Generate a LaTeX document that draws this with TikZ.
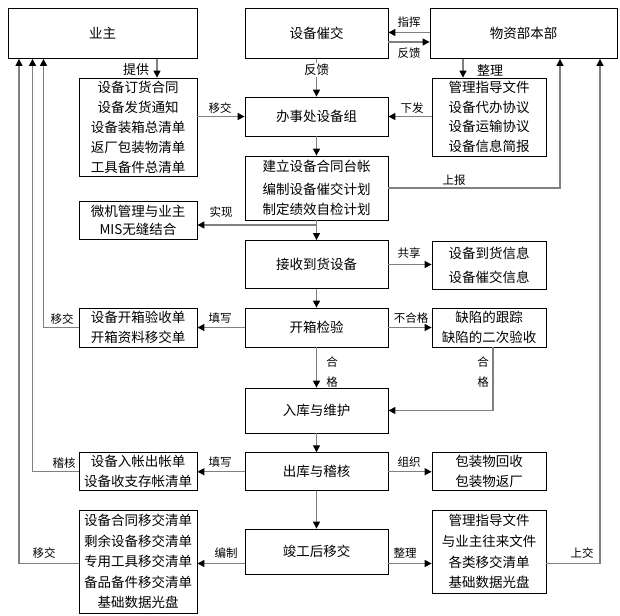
\documentclass[tikz,border=0pt]{standalone}
\usepackage{fontspec}
\newfontfamily\cjk{Noto Sans CJK SC}
\usetikzlibrary{arrows.meta}

\tikzset{
  box/.style={draw, line width=0.8pt, inner sep=0pt, align=center,
    font=\cjk\fontsize{13.5}{20}\selectfont},
  lbl/.style={inner sep=1pt, font=\cjk\fontsize{11.5}{20}\selectfont},
  conn/.style={draw=black!50, line width=1.2pt,
    -{Triangle[length=7pt,width=7pt,color=black]}},
  link/.style={draw=black!50, line width=1.2pt},
}

\begin{document}
\begin{tikzpicture}[x=1pt, y=-1pt]
\useasboundingbox (0,0) rectangle (620,615);

% top row
\node[box, minimum width=189pt, minimum height=50pt] (yezhu) at (102.5,33.5) {业主};
\node[box, minimum width=143pt, minimum height=50pt] (cuijiao) at (316.5,33.5) {设备催交};
\node[box, minimum width=187pt, minimum height=50pt] (wuzi) at (523.5,33.5) {物资部本部};

% left column
\node[box, minimum width=118pt, minimum height=98pt] (tigong) at (138,127) {设备订货合同\\设备发货通知\\设备装箱总清单\\返厂包装物清单\\工具备件总清单};
\node[box, minimum width=118pt, minimum height=38pt, font=\cjk\fontsize{13.5}{18}\selectfont] (weiji) at (138,220) {微机管理与业主\\MIS无缝结合};
\node[box, minimum width=118pt, minimum height=39pt] (yanshou) at (138,327.5) {设备开箱验收单\\开箱资料移交单};
\node[box, minimum width=118pt, minimum height=38pt] (ruzhang) at (138,471.7) {设备入帐出帐单\\设备收支存帐清单};
\node[box, minimum width=118pt, minimum height=103pt, font=\cjk\fontsize{13.5}{20.4}\selectfont] (yijiao) at (138,561.5) {设备合同移交清单\\剩余设备移交清单\\专用工具移交清单\\备品备件移交清单\\基础数据光盘};

% middle column
\node[box, minimum width=143pt, minimum height=39pt] (bsc) at (316.5,116.5) {办事处设备组};
\node[box, minimum width=143pt, minimum height=64pt] (jianli) at (316.5,188) {建立设备合同台帐\\[3pt]编制设备催交计划\\制定绩效自检计划};
\node[box, minimum width=143pt, minimum height=48pt] (jieshou) at (316.5,264.5) {接收到货设备};
\node[box, minimum width=143pt, minimum height=39pt] (kaixiang) at (316.5,327.5) {开箱检验};
\node[box, minimum width=143pt, minimum height=45pt] (ruku) at (316.5,410.5) {入库与维护};
\node[box, minimum width=143pt, minimum height=38pt] (chuku) at (316.5,471.7) {出库与稽核};
\node[box, minimum width=143pt, minimum height=45pt] (jungong) at (316.5,551.5) {竣工后移交};

% right column
\node[box, minimum width=114pt, minimum height=78pt, font=\cjk\fontsize{13.5}{19.5}\selectfont] (guanli) at (489,117) {管理指导文件\\设备代办协议\\设备运输协议\\设备信息简报};
\node[box, minimum width=114pt, minimum height=48pt] (daohuo) at (489,265) {设备到货信息\\[3.7pt]设备催交信息};
\node[box, minimum width=114pt, minimum height=39pt] (quexian) at (489,327.5) {缺陷的跟踪\\缺陷的二次验收};
\node[box, minimum width=114pt, minimum height=38pt] (baozhuang) at (489,471.7) {包装物回收\\包装物返厂};
\node[box, minimum width=114pt, minimum height=83pt, font=\cjk\fontsize{13.5}{20.8}\selectfont] (guidang) at (489,551.5) {管理指导文件\\与业主往来文件\\各类移交清单\\基础数据光盘};

% connectors at the top
\draw[conn] ([yshift=1pt]wuzi.west) -- ([yshift=1pt]wuzi.west -| cuijiao.east);
\draw[conn] ([yshift=-8.5pt]cuijiao.east) -- ([yshift=-8.5pt]cuijiao.east -| wuzi.west);
\draw[conn] ([xshift=19pt]tigong.north |- yezhu.south) -- ([xshift=19pt]tigong.north);
\draw[conn] (cuijiao.south) -- node[lbl, pos=0.3, fill=white, font=\cjk\fontsize{12.5}{20}\selectfont] {反馈} (bsc.north);
\draw[conn] ([xshift=-26pt]guanli.north |- wuzi.south) -- ([xshift=-26pt]guanli.north);
\draw[conn] (bsc.west -| tigong.east) -- (bsc.west);
\draw[conn] (bsc.east -| guanli.west) -- (bsc.east);
\draw[conn] (bsc.south) -- (jianli.north);
\draw[conn] (jianli.east) -| ([xshift=36.5pt]wuzi.south);

% connectors down the middle
\draw[conn] (jianli.south) -- (jieshou.north);
\draw[conn] ([yshift=-5pt]weiji.east -| jianli.south) -- ([yshift=-5pt]weiji.east);
\draw[conn] (jieshou.east) -- (jieshou.east -| daohuo.west);
\draw[conn] (jieshou.south) -- (kaixiang.north);
\draw[conn] (kaixiang.west) -- (yanshou.east);
\draw[conn] (kaixiang.east) -- (quexian.west);
\draw[conn] (yanshou.west) -| ([xshift=-59pt]yezhu.south);
\draw[conn] (kaixiang.south) -- (ruku.north);
\draw[conn] ([xshift=4pt]quexian.south) |- (ruku.east);
\draw[conn] (ruku.south) -- (chuku.north);
\draw[conn] (chuku.west) -- (ruzhang.east);
\draw[conn] (chuku.east) -- (baozhuang.west);
\draw[conn] (ruzhang.west) -| ([xshift=-70pt]yezhu.south);
\draw[conn] (chuku.south) -- (jungong.north);
\draw[conn] ([yshift=-12pt]jungong.west) -- ([yshift=-12pt]jungong.west -| yijiao.east);
\draw[conn] ([yshift=-12pt]jungong.east) -- ([yshift=-12pt]jungong.east -| guidang.west);
\draw[conn] ([yshift=-2pt]yijiao.west) -| ([xshift=-83.5pt]yezhu.south);
\draw[conn] ([yshift=-12pt]guidang.east) -| ([xshift=76.5pt]wuzi.south);

% connector labels
\foreach \x/\y/\t in {409/21.7/指挥, 409/53.3/反馈, 220/108/移交, 412/108/下发,
    454/180/上报, 221/212/实现, 409/253/共享, 220/318/填写, 411/318/不合格,
    62/319/移交, 220/462/填写, 409/462/组织, 64/463/稽核, 44/553/移交,
    226/553/编制, 405/553/整理, 582/553/上交}
  \node[lbl] at (\x,\y) {\t};
\node[lbl, font=\cjk\fontsize{13}{20}\selectfont] at (136,70) {提供};
\node[lbl, font=\cjk\fontsize{13}{20}\selectfont] at (490,70) {整理};
\node[lbl, align=center] at (332,372) {合\\格};
\node[lbl, align=center] at (483,372) {合\\格};
\end{tikzpicture}
\end{document}
